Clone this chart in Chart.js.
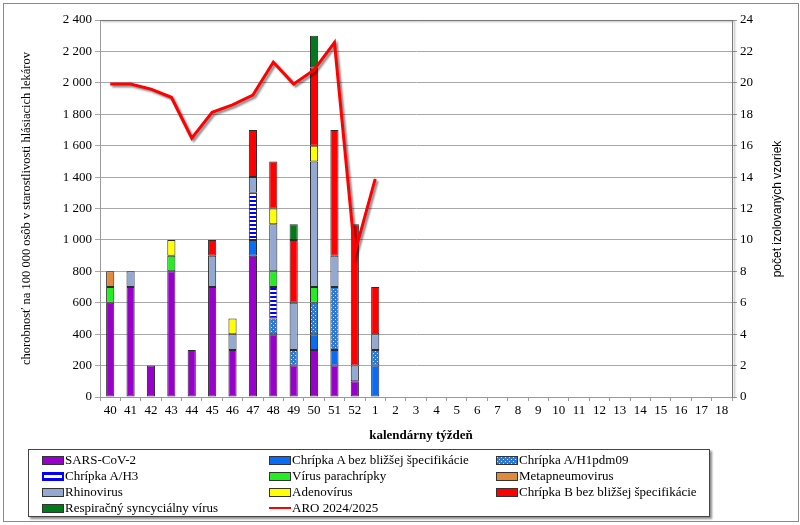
<!DOCTYPE html>
<html>
<head>
<meta charset="utf-8">
<script src="https://cdn.jsdelivr.net/npm/chart.js@4/dist/chart.umd.min.js"></script>
<style>
  html, body { margin: 0; padding: 0; background: #fff; }
  #wrap { position: relative; width: 800px; height: 525px; overflow: hidden; background: #fff; }
  #c { position: absolute; left: 0; top: 0; }
  #frame { position: absolute; left: 3px; top: 3px; width: 794px; height: 517px; border: 1px solid #8a8a8a; pointer-events: none; }
  #legend { position: absolute; left: 28px; top: 449px; width: 680px; height: 66px; border: 1px solid #444; background: #fff; box-shadow: 2px 2px 2px rgba(0,0,0,0.45); font-family: 'Liberation Serif', serif; font-size: 13px; color: #000; }
  .li { position: absolute; height: 16px; line-height: 16px; white-space: nowrap; }
  .li canvas { position: absolute; left: 0; top: 4px; }
  .li span { position: absolute; left: 23px; top: 0; }
</style>
</head>
<body>
<div id="wrap">
  <canvas id="c" width="800" height="525"></canvas>
  <div id="legend"></div>
  <div id="frame"></div>
</div>
<script>
// ---- data ----
const weeks = ['40','41','42','43','44','45','46','47','48','49','50','51','52','1','2','3','4','5','6','7','8','9','10','11','12','13','14','15','16','17','18'];
const N = null;
const sarsCov2   = [6,7,2,8,3,7,3,9,4,2,3,2,1,N,N,N,N,N,N,N,N,N,N,N,N,N,N,N,N,N,N];
const fluANonSpec= [N,N,N,N,N,N,N,1,N,N,1,1,N,2,N,N,N,N,N,N,N,N,N,N,N,N,N,N,N,N,N];
const fluAH1     = [N,N,N,N,N,N,N,N,1,1,2,4,N,1,N,N,N,N,N,N,N,N,N,N,N,N,N,N,N,N,N];
const fluAH3     = [N,N,N,N,N,N,N,3,2,N,N,N,N,N,N,N,N,N,N,N,N,N,N,N,N,N,N,N,N,N,N];
const parainfl   = [1,N,N,1,N,N,N,N,1,N,1,N,N,N,N,N,N,N,N,N,N,N,N,N,N,N,N,N,N,N,N];
const metapneumo = [1,N,N,N,N,N,N,N,N,N,N,N,N,N,N,N,N,N,N,N,N,N,N,N,N,N,N,N,N,N,N];
const rhino      = [N,1,N,N,N,2,1,1,3,3,8,2,1,1,N,N,N,N,N,N,N,N,N,N,N,N,N,N,N,N,N];
const adeno      = [N,N,N,1,N,N,1,N,1,N,1,N,N,N,N,N,N,N,N,N,N,N,N,N,N,N,N,N,N,N,N];
const fluBNonSpec= [N,N,N,N,N,1,N,3,3,4,5,8,9,3,N,N,N,N,N,N,N,N,N,N,N,N,N,N,N,N,N];
const rsv        = [N,N,N,N,N,N,N,N,N,1,2,N,N,N,N,N,N,N,N,N,N,N,N,N,N,N,N,N,N,N,N];
const aro        = [1993,1993,1960,1908,1648,1812,1860,1922,2132,1992,2082,2256,917,1388,N,N,N,N,N,N,N,N,N,N,N,N,N,N,N,N,N];
const leftTicks = { min: 0, max: 2400, step: 200 };
const rightTicks = { min: 0, max: 24, step: 2 };

// ---- patterns ----
function stripePattern() {
  const c = document.createElement('canvas'); c.width = 4; c.height = 4;
  const x = c.getContext('2d');
  x.fillStyle = '#ffffff'; x.fillRect(0,0,4,4);
  x.fillStyle = '#0000ff'; x.fillRect(0,0,4,2);
  return x.createPattern(c, 'repeat');
}
function dotPattern() {
  const c = document.createElement('canvas'); c.width = 4; c.height = 4;
  const x = c.getContext('2d');
  x.fillStyle = '#2a7ad6'; x.fillRect(0,0,4,4);
  x.fillStyle = '#cfe6ff'; x.fillRect(1,1,1,1); x.fillRect(3,3,1,1);
  return x.createPattern(c, 'repeat');
}

const ctx = document.getElementById('c').getContext('2d');
const barBase = { type: 'bar', yAxisID: 'y1', stack: 's', borderColor: '#2a2a2a', borderWidth: 1, borderSkipped: false, barPercentage: 0.4, categoryPercentage: 1, order: 1 };
const datasets = [
  Object.assign({ label: 'SARS-CoV-2', data: sarsCov2, backgroundColor: '#9900cc' }, barBase),
  Object.assign({ label: 'Chrípka A bez bližšej špecifikácie', data: fluANonSpec, backgroundColor: '#0a6cf5' }, barBase),
  Object.assign({ label: 'Chrípka A/H1pdm09', data: fluAH1, backgroundColor: dotPattern() }, barBase),
  Object.assign({ label: 'Chrípka A/H3', data: fluAH3, backgroundColor: stripePattern(), swatch: 'h3' }, barBase),
  Object.assign({ label: 'Vírus parachrípky', data: parainfl, backgroundColor: '#22ee22' }, barBase),
  Object.assign({ label: 'Metapneumovirus', data: metapneumo, backgroundColor: '#e08a3c' }, barBase),
  Object.assign({ label: 'Rhinovirus', data: rhino, backgroundColor: '#93a9d2' }, barBase),
  Object.assign({ label: 'Adenovírus', data: adeno, backgroundColor: '#ffff00' }, barBase),
  Object.assign({ label: 'Chrípka B bez bližšej špecifikácie', data: fluBNonSpec, backgroundColor: '#ff0000' }, barBase),
  Object.assign({ label: 'Respiračný syncyciálny vírus', data: rsv, backgroundColor: '#007a1a' }, barBase),
  { type: 'line', label: 'ARO 2024/2025', data: aro, yAxisID: 'y', stack: 'line', borderColor: '#ff0000', borderWidth: 3, pointRadius: 0, tension: 0, fill: false, order: 0, spanGaps: false }
];

const fmt = v => String(v).replace(/\B(?=(\d{3})+(?!\d))/g, ' ');
const serif = 'Liberation Serif';

const decor = {
  id: 'decor',
  beforeDatasetDraw(chart, args) {
    if (args.meta.type === 'line') {
      const c = chart.ctx; c.save();
      c.shadowColor = 'rgba(0,0,0,0.45)'; c.shadowOffsetX = 2; c.shadowOffsetY = 2; c.shadowBlur = 2;
    }
  },
  afterDatasetDraw(chart, args) {
    if (args.meta.type === 'line') chart.ctx.restore();
  },
  afterDraw(chart) {
    const c = chart.ctx, a = chart.chartArea;
    c.save();
    c.shadowColor = 'rgba(0,0,0,0.35)'; c.shadowOffsetX = 2; c.shadowOffsetY = 1; c.shadowBlur = 2;
    c.strokeStyle = '#7a7a7a'; c.lineWidth = 1;
    c.beginPath(); c.moveTo(a.left, a.top + 0.5); c.lineTo(a.right + 0.5, a.top + 0.5); c.lineTo(a.right + 0.5, a.bottom); c.stroke();
    c.restore();
    c.save();
    c.fillStyle = '#000';
    c.font = '12px "Liberation Sans"';
    c.textAlign = 'center'; c.textBaseline = 'middle';
    c.translate(778, 209); c.rotate(-Math.PI / 2);
    c.fillText('počet izolovaných vzoriek', 0, 0);
    c.restore();
    c.save();
    c.fillStyle = '#000';
    c.font = 'bold 13px "Liberation Serif"';
    c.textAlign = 'center'; c.textBaseline = 'middle';
    c.fillText('kalendárny týždeň', 421, 436);
    c.restore();
  }
};

const chart = new Chart(ctx, {
  data: { labels: weeks, datasets },
  plugins: [decor],
  options: {
    responsive: false, devicePixelRatio: 1, animation: false,
    layout: { padding: { left: 0, right: 0, top: 20, bottom: 78 } },
    plugins: { legend: { display: false }, tooltip: { enabled: false } },
    scales: {
      x: {
        stacked: true,
        grid: { display: true, drawOnChartArea: false, drawTicks: true, tickLength: 4, color: '#9a9a9a', offset: true },
        border: { display: true, color: '#9a9a9a' },
        ticks: { color: '#000', font: { family: serif, size: 13 }, maxRotation: 0, autoSkip: false, padding: 2 },
        afterFit(s) { s.height = 50; }
      },
      y: {
        position: 'left', min: leftTicks.min, max: leftTicks.max,
        ticks: { stepSize: leftTicks.step, color: '#000', font: { family: serif, size: 13 }, callback: v => fmt(v), padding: 3 },
        grid: { color: '#a8a8a8', lineWidth: 1, tickLength: 5, drawTicks: true },
        border: { display: true, color: '#9a9a9a' },
        title: { display: true, text: 'chorobnosť na 100 000 osôb v starostlivosti hlásiacich lekárov', color: '#000', font: { family: serif, size: 12.5 }, padding: { top: 19, bottom: 0 } },
        afterFit(s) { s.width = 100; }
      },
      y1: {
        position: 'right', stacked: true, min: rightTicks.min, max: rightTicks.max,
        ticks: { stepSize: rightTicks.step, color: '#000', font: { family: serif, size: 13 }, padding: 3 },
        grid: { drawOnChartArea: false, tickLength: 5, color: '#9a9a9a' },
        border: { display: true, color: '#7a7a7a' },
        afterFit(s) { s.width = 68; }
      }
    }
  }
});

// ---- HTML legend built from the chart's datasets ----
const legend = document.getElementById('legend');
const colX = [13, 240, 467];
const rowY = [2, 18, 34, 50];
chart.data.datasets.forEach((ds, i) => {
  const item = document.createElement('div');
  item.className = 'li';
  item.style.left = colX[i % 3] + 'px';
  item.style.top = rowY[Math.floor(i / 3)] + 'px';
  const sw = document.createElement('canvas');
  sw.width = 22; sw.height = 9;
  const g = sw.getContext('2d');
  if (ds.type === 'line') {
    g.fillStyle = ds.borderColor; g.fillRect(0, 3, 22, 2);
  } else if (ds.swatch === 'h3') {
    g.fillStyle = '#0000ff'; g.fillRect(0, 0, 22, 9);
    g.fillStyle = '#ffffff'; g.fillRect(2, 3, 18, 3);
  } else {
    g.fillStyle = ds.backgroundColor; g.fillRect(0, 0, 22, 9);
    g.strokeStyle = '#333'; g.lineWidth = 1; g.strokeRect(0.5, 0.5, 21, 8);
  }
  item.appendChild(sw);
  const t = document.createElement('span');
  t.textContent = ds.label;
  item.appendChild(t);
  legend.appendChild(item);
});
</script>
</body>
</html>
